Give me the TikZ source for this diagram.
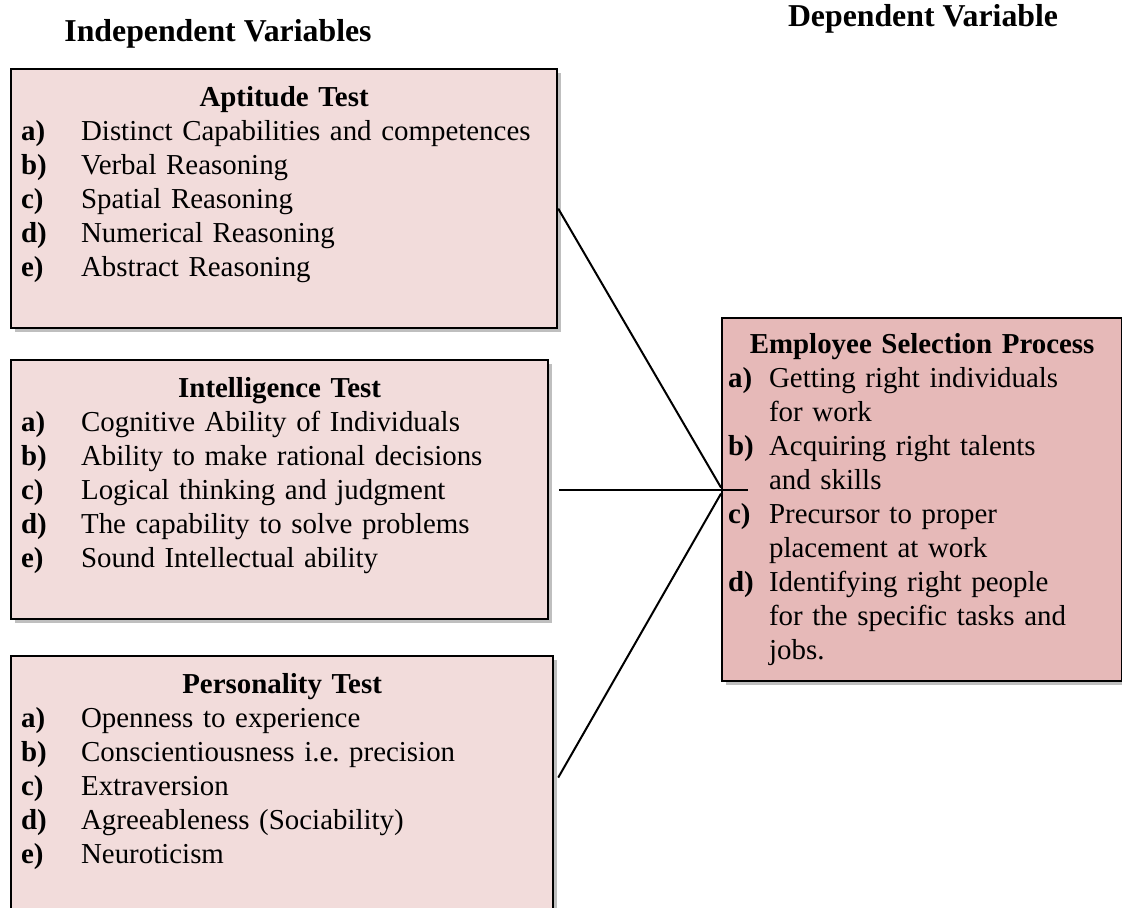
\documentclass[tikz,border=0pt]{standalone}
\usepackage{fontspec}
\setmainfont{Liberation Serif}
\usetikzlibrary{calc, positioning, shadows}

\definecolor{testpink}{HTML}{F2DCDB}
\definecolor{selpink}{HTML}{E6B9B8}
\definecolor{shadowgray}{HTML}{BFBFBF}

% label column of the lettered lists
\newlength{\lblw}
\newcommand{\lstitem}[2]{\par\hangindent=\lblw\hangafter=1\noindent\makebox[\lblw][l]{\bfseries #1}#2}

\begin{document}
\begin{tikzpicture}[x=0.5pt, y=-0.5pt,
	header/.style={font=\fontsize{15.9}{18}\selectfont\bfseries},
	testbox/.style={draw, line width=1.1pt, fill=testpink, anchor=north west,
		inner xsep=5pt, inner ysep=0pt, minimum height=129.5pt,
		font=\fontsize{14.45}{17}\selectfont,
		execute at begin node={\raggedright\setlength{\lblw}{30pt}},
		drop shadow={shadow xshift=2pt, shadow yshift=-2pt, fill=shadowgray, opacity=1}},
	selbox/.style={testbox, fill=selpink, inner xsep=3pt, minimum height=181.5pt,
		execute at begin node={\raggedright\setlength{\lblw}{20.5pt}}},
	link/.style={line width=1pt}]
	
	\useasboundingbox (0,0) rectangle (1122,908);
	\clip (0,0) rectangle (1122,908);
	
	% --- 1. COLUMN HEADERS ---
	\node[header] (indep) at (218,34) {Independent Variables};
	\node[header] (dep) at (923,19) {Dependent Variable};
	
	% --- 2. THE INDEPENDENT VARIABLES ---
	\node[testbox, text width=263pt] (apt) at (10,68) {
		{\centering\bfseries Aptitude Test\par}
		\lstitem{a)}{Distinct Capabilities and competences}
		\lstitem{b)}{Verbal Reasoning}
		\lstitem{c)}{Spatial Reasoning}
		\lstitem{d)}{Numerical Reasoning}
		\lstitem{e)}{Abstract Reasoning}
		\par\mbox{}
	};
	
	\node[testbox, text width=258.5pt] (intel) at (10,359) {
		{\centering\bfseries Intelligence Test\par}
		\lstitem{a)}{Cognitive Ability of Individuals}
		\lstitem{b)}{Ability to make rational decisions}
		\lstitem{c)}{Logical thinking and judgment}
		\lstitem{d)}{The capability to solve problems}
		\lstitem{e)}{Sound Intellectual ability}
		\par\mbox{}
	};
	
	\node[testbox, text width=261pt] (pers) at (10,655) {
		{\centering\bfseries Personality Test\par}
		\lstitem{a)}{Openness to experience}
		\lstitem{b)}{Conscientiousness i.e.\ precision}
		\lstitem{c)}{Extraversion}
		\lstitem{d)}{Agreeableness (Sociability)}
		\lstitem{e)}{Neuroticism}
		\par\mbox{}
	};
	
	% --- 3. THE DEPENDENT VARIABLE ---
	\node[selbox, text width=194pt] (sel) at (721,317) {
		{\centering\bfseries Employee Selection Process\par}
		\lstitem{a)}{Getting right individuals\break for work}
		\lstitem{b)}{Acquiring right talents\break and skills}
		\lstitem{c)}{Precursor to proper\break placement at work}
		\lstitem{d)}{Identifying right people\break for the specific tasks and\break jobs.}
		\par
	};
	
	% --- 4. THE LINKS ---
	\coordinate (hend) at ([xshift=13.5pt]sel.west);
	\draw[link] ([yshift=-5pt]apt.east) -- ([yshift=6pt]sel.west);
	\draw[link] ([xshift=5pt]intel.east) coordinate (hstart) -- (hstart -| hend);
	\draw[link] ([xshift=2pt, yshift=4pt]pers.east) -- ([yshift=3pt]sel.west);
	
\end{tikzpicture}
\end{document}
